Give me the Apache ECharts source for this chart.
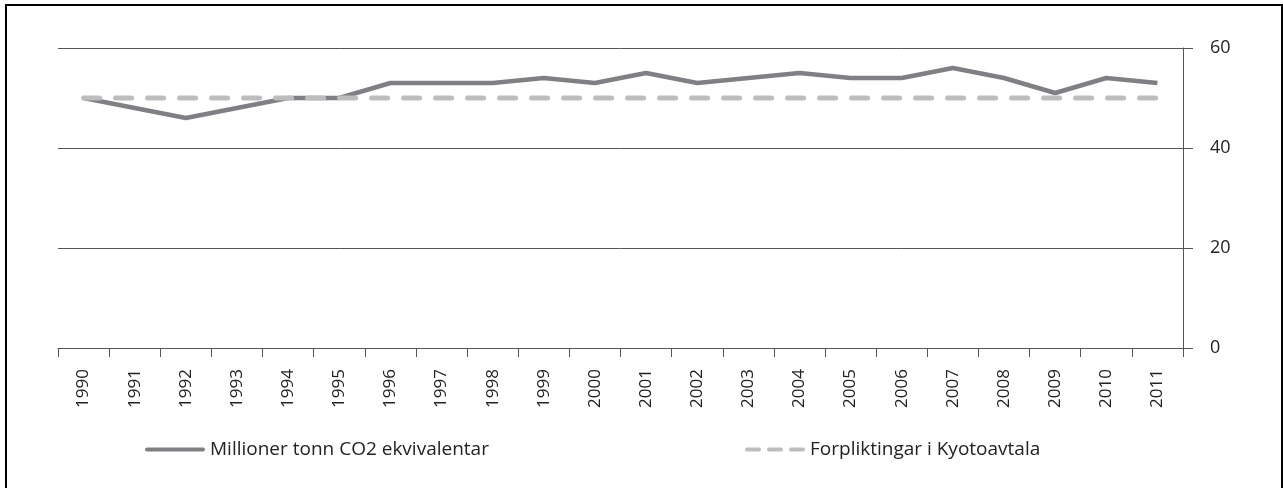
<!DOCTYPE html>
<html>
<head>
<meta charset="utf-8">
<script src="https://cdn.jsdelivr.net/npm/echarts@6/dist/echarts.min.js"></script>
<style>
  html, body { margin: 0; padding: 0; background: #fff; }
  #chart { width: 1283px; height: 488px; }
</style>
</head>
<body>
<div id="chart"></div>
<script>
var years = ['1990','1991','1992','1993','1994','1995','1996','1997','1998','1999','2000',
             '2001','2002','2003','2004','2005','2006','2007','2008','2009','2010','2011'];
var emissions = [50, 48, 46, 48, 50, 50, 53, 53, 53, 54, 53, 55, 53, 54, 55, 54, 54, 56, 54, 51, 54, 53];
var kyoto = [50, 50, 50, 50, 50, 50, 50, 50, 50, 50, 50, 50, 50, 50, 50, 50, 50, 50, 50, 50, 50, 50];
var name1 = 'Millioner tonn CO2 ekvivalentar';
var name2 = 'Forpliktingar i Kyotoavtala';

var myChart = echarts.init(document.getElementById('chart'));

var font = 'Open Sans';
var option = {
    animation: false,
    textStyle: { fontFamily: font },
    graphic: [{
        type: 'rect',
        shape: { x: 6, y: 5, width: 1276, height: 500 },
        style: { fill: 'none', stroke: '#000', lineWidth: 2 },
        silent: true
    }],
    grid: { left: 58, right: 100, top: 48, bottom: 140 },
    legend: [
        { data: [{ name: name1, icon: 'path://M2,0h56a2,2 0 0 1 0,4h-56a2,2 0 0 1 0,-4z' }],
          left: 140, top: 435, itemWidth: 60, itemHeight: 4, itemGap: 5,
          textStyle: { fontSize: 19, color: '#222', fontFamily: font } },
        { data: [{ name: name2, icon: 'path://M2,0h12a2,2 0 0 1 0,4h-12a2,2 0 0 1 0,-4z M24,0h12a2,2 0 0 1 0,4h-12a2,2 0 0 1 0,-4z M46,0h12a2,2 0 0 1 0,4h-12a2,2 0 0 1 0,-4z' }],
          left: 740, top: 435, itemWidth: 60, itemHeight: 4, itemGap: 5,
          textStyle: { fontSize: 19, color: '#222', fontFamily: font } }
    ],
    xAxis: {
        type: 'category',
        data: years,
        boundaryGap: true,
        axisLine: { lineStyle: { color: '#555', width: 1 } },
        axisTick: { show: true, length: 9, lineStyle: { color: '#555' } },
        axisLabel: { rotate: 90, fontSize: 17, color: '#222', margin: 21, interval: 0 }
    },
    yAxis: {
        type: 'value',
        position: 'right',
        min: 0, max: 60, interval: 20,
        axisLine: { show: true, lineStyle: { color: '#555', width: 1 } },
        axisTick: { show: true, length: 10, lineStyle: { color: '#555' } },
        splitLine: { lineStyle: { color: '#555', width: 1 } },
        axisLabel: { fontSize: 18, color: '#222', margin: 27 }
    },
    series: [
        {
            name: name1,
            type: 'line',
            data: emissions,
            symbol: 'none',
            lineStyle: { color: '#808084', width: 4.5 },
            itemStyle: { color: '#808084' }
        },
        {
            name: name2,
            type: 'line',
            data: kyoto,
            symbol: 'none',
            lineStyle: { color: '#bdbdc0', width: 5, type: [16, 16], cap: 'round' },
            itemStyle: { color: '#bdbdc0' }
        }
    ]
};

myChart.setOption(option);
</script>
</body>
</html>
